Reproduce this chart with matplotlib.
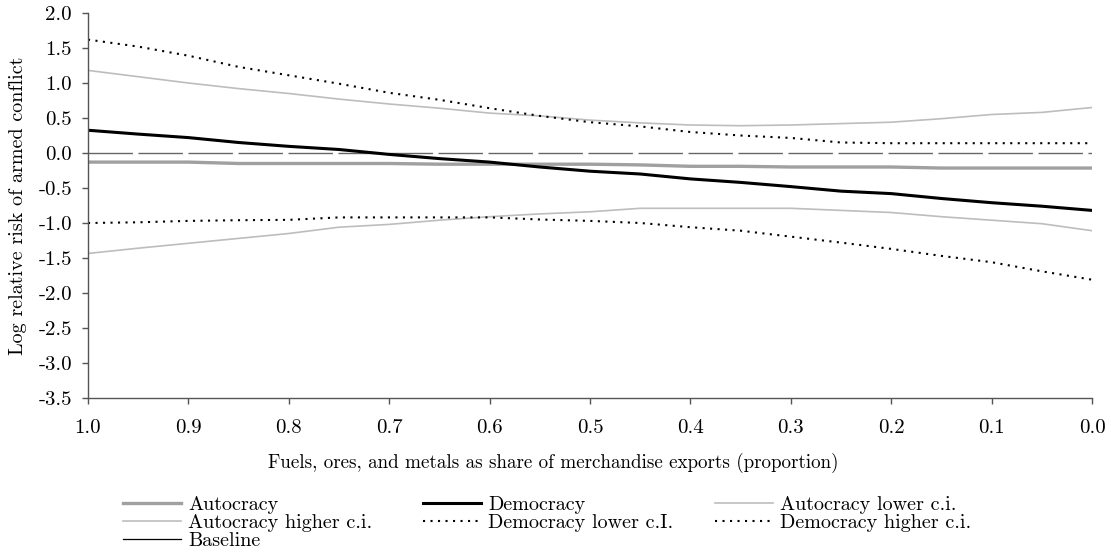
import matplotlib
from matplotlib import pyplot as plt
from matplotlib.lines import Line2D

matplotlib.use("agg")

plt.rcParams["font.family"] = ["cmr10", "DejaVu Serif"]
plt.rcParams["axes.unicode_minus"] = False

share = [1.0, 0.95, 0.9, 0.85, 0.8, 0.75, 0.7, 0.65, 0.6, 0.55, 0.5,
         0.45, 0.4, 0.35, 0.3, 0.25, 0.2, 0.15, 0.1, 0.05, 0.0]

autocracy = [-0.13, -0.13, -0.13, -0.15, -0.15, -0.15, -0.15, -0.16, -0.16, -0.16, -0.16,
             -0.17, -0.19, -0.19, -0.20, -0.20, -0.20, -0.215, -0.215, -0.215, -0.215]
democracy = [0.325, 0.27, 0.22, 0.15, 0.095, 0.05, -0.02, -0.08, -0.13, -0.20, -0.26,
             -0.30, -0.37, -0.42, -0.48, -0.545, -0.58, -0.65, -0.71, -0.76, -0.82]
auto_lower = [-1.435, -1.36, -1.29, -1.22, -1.15, -1.06, -1.02, -0.96, -0.91, -0.87, -0.84,
              -0.79, -0.79, -0.79, -0.79, -0.82, -0.85, -0.91, -0.96, -1.01, -1.11]
auto_higher = [1.18, 1.09, 1.0, 0.92, 0.85, 0.77, 0.70, 0.64, 0.57, 0.53, 0.47,
               0.43, 0.40, 0.39, 0.40, 0.42, 0.44, 0.49, 0.55, 0.58, 0.65]
dem_lower = [-1.0, -0.99, -0.97, -0.96, -0.955, -0.92, -0.92, -0.92, -0.92, -0.95, -0.97,
             -1.0, -1.06, -1.11, -1.195, -1.28, -1.37, -1.47, -1.56, -1.69, -1.81]
dem_higher = [1.62, 1.52, 1.39, 1.23, 1.11, 0.99, 0.86, 0.76, 0.64, 0.53, 0.44,
              0.38, 0.30, 0.25, 0.215, 0.15, 0.14, 0.14, 0.14, 0.14, 0.14]
baseline = [0.0] * len(share)

xt = [1.0, 0.9, 0.8, 0.7, 0.6, 0.5, 0.4, 0.3, 0.2, 0.1, 0.0]
yt = [2.0, 1.5, 1.0, 0.5, 0.0, -0.5, -1.0, -1.5, -2.0, -2.5, -3.0, -3.5]

W, H = 1111, 552
fig = plt.figure(figsize=(W / 100, H / 100), dpi=100)
ax = fig.add_axes([88 / W, 1 - 398 / H, 1004 / W, 385 / H])

dot = (1, 2.6)
ax.plot(share, baseline, color="#666666", lw=1.0, dashes=(32, 4))
ax.plot(share, auto_lower, color="#bdbdbd", lw=1.2)
ax.plot(share, auto_higher, color="#bdbdbd", lw=1.2)
ax.plot(share, dem_lower, color="black", lw=1.5, dashes=dot)
ax.plot(share, dem_higher, color="black", lw=1.5, dashes=dot)
ax.plot(share, autocracy, color="#a0a0a0", lw=2.4)
ax.plot(share, democracy, color="black", lw=2.2)

ax.set_xlim(1.0, 0.0)
ax.set_ylim(-3.5, 2.0)
ax.set_xticks(xt)
ax.set_xticklabels([f"{v:.1f}" for v in xt])
ax.set_yticks(yt)
ax.set_yticklabels([f"{v:.1f}" for v in yt])

for s in ["top", "right"]:
    ax.spines[s].set_visible(False)
for s in ["left", "bottom"]:
    ax.spines[s].set_color("#555555")
    ax.spines[s].set_linewidth(1.0)
ax.tick_params(direction="out", length=4.5, width=1.0, color="#555555", labelsize=15)
ax.tick_params(axis="y", pad=7)
ax.tick_params(axis="x", pad=11)

ax.set_ylabel("Log relative risk of armed conflict", fontsize=14.5)
ax.yaxis.set_label_coords(-61 / 1004, 0.5)
ax.set_xlabel("Fuels, ores, and metals as share of merchandise exports (proportion)",
              fontsize=13.7)
ax.xaxis.set_label_coords((553 - 88) / 1004, -(453 - 398) / 385)

# legend: three columns placed separately, like the original layout
columns = [
    (123, [Line2D([], [], color="#a0a0a0", lw=2.4),
           Line2D([], [], color="#bdbdbd", lw=1.2),
           Line2D([], [], color="black", lw=0.9)],
     ["Autocracy", "Autocracy higher c.i.", "Baseline"]),
    (423, [Line2D([], [], color="black", lw=2.2),
           Line2D([], [], color="black", lw=1.5, dashes=dot)],
     ["Democracy", "Democracy lower c.I."]),
    (715, [Line2D([], [], color="#bdbdbd", lw=1.2),
           Line2D([], [], color="black", lw=1.5, dashes=dot)],
     ["Autocracy lower c.i.", "Democracy higher c.i."]),
]
for x0, hs, ls in columns:
    leg = fig.legend(hs, ls, loc="upper left", bbox_to_anchor=(x0 / W, 1 - 496 / H),
                     frameon=False, fontsize=14.5, handlelength=2.9, handletextpad=0.35,
                     labelspacing=0.0, borderaxespad=0, borderpad=0)

plt.savefig("out.png", dpi=100)
